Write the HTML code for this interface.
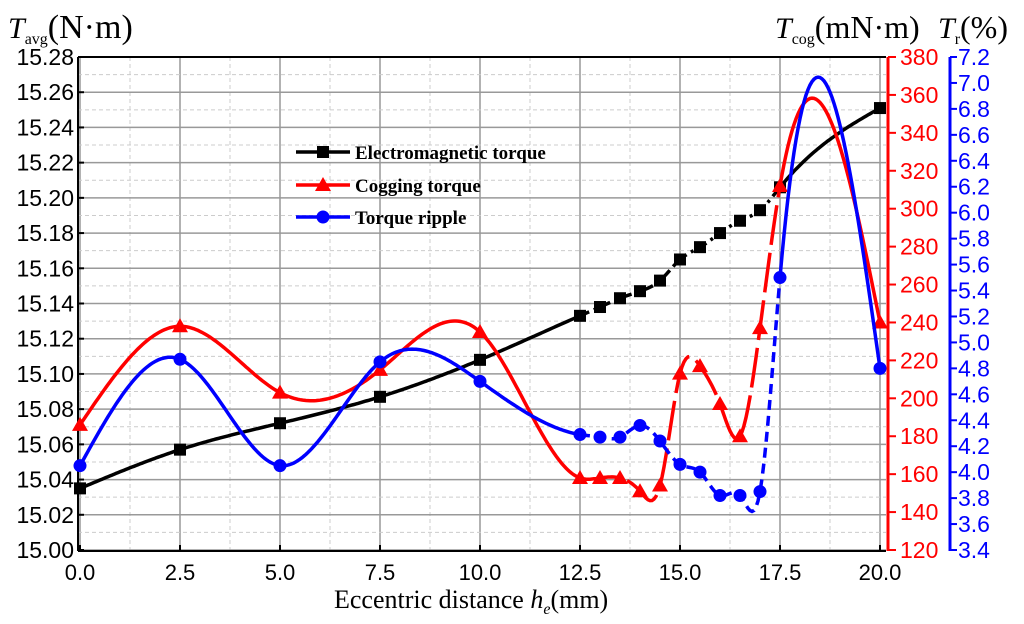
<!DOCTYPE html>
<html><head><meta charset="utf-8"><style>
body{margin:0;background:#fff}
svg{display:block}
text{font-family:"Liberation Sans",sans-serif}
.s{font-family:"Liberation Serif",serif}
</style></head><body>
<svg id="c" width="1024" height="624" xmlns="http://www.w3.org/2000/svg"></svg>
<script>
const xs=[0,2.5,5,7.5,10,12.5,13,13.5,14,14.5,15,15.5,16,16.5,17,17.5,20];
const emTorque=[15.035,15.057,15.072,15.087,15.108,15.133,15.138,15.143,15.147,15.153,15.165,15.172,15.180,15.187,15.193,15.206,15.251];
const cogTorque=[186,238,203,215,235,158,158,158,151,154,213,217,197,180,237,312,240];
const ripple=[4.05,4.87,4.05,4.85,4.70,4.29,4.27,4.27,4.36,4.24,4.06,4.00,3.82,3.82,3.85,5.50,4.80];
const xTicks=[0,2.5,5,7.5,10,12.5,15,17.5,20];
const leftTicks=[15.00,15.02,15.04,15.06,15.08,15.10,15.12,15.14,15.16,15.18,15.20,15.22,15.24,15.26,15.28];
const redTicks=[120,140,160,180,200,220,240,260,280,300,320,340,360,380];
const blueTicks=[3.4,3.6,3.8,4.0,4.2,4.4,4.6,4.8,5.0,5.2,5.4,5.6,5.8,6.0,6.2,6.4,6.6,6.8,7.0,7.2];
const X=v=>80+v*40;
const YL=v=>550-(v-15)/0.28*493;
const YR=v=>550-(v-120)/260*493;
const YB=v=>550-(v-3.4)/3.8*493;
const svg=document.getElementById('c');
const NS='http://www.w3.org/2000/svg';
function mk(t,a,p){const e=document.createElementNS(NS,t);for(const k in a)e.setAttribute(k,a[k]);(p||svg).appendChild(e);return e;}
for(let i=0;i<=16;i++){const x=X(i*1.25);const e=mk('line',{x1:x,x2:x,y1:57,y2:550,stroke:i%2?'#ccc':'#999','stroke-width':i%2?1:1.5,'stroke-dasharray':i%2?'4,3':''});

}
for(let i=0;i<=28;i++){const y=YL(15+i*0.01);const e=mk('line',{x1:78,x2:886,y1:y,y2:y,stroke:i%2?'#ccc':'#999','stroke-width':i%2?1:1.5,'stroke-dasharray':i%2?'4,3':''});

}
mk('line',{x1:78,x2:886,y1:57,y2:57,stroke:'#000','stroke-width':2});
mk('line',{x1:78,x2:886,y1:551,y2:551,stroke:'#000','stroke-width':2});
mk('line',{x1:78,x2:78,y1:57,y2:551,stroke:'#000','stroke-width':2});
mk('line',{x1:888,x2:888,y1:57,y2:551,stroke:'#f00','stroke-width':3});
mk('line',{x1:950,x2:950,y1:57,y2:551,stroke:'#00f','stroke-width':3});
function txt(s,a){const e=mk('text',a);e.textContent=s;return e;}
leftTicks.forEach(v=>{const y=YL(v);mk('line',{x1:78,x2:84,y1:y,y2:y,stroke:'#000','stroke-width':2});
const t=txt(v.toFixed(2),{x:74,y:y+8,'font-size':23,'text-anchor':'end'});

});
xTicks.forEach(v=>{const x=X(v);mk('line',{x1:x,x2:x,y1:545,y2:551,stroke:'#000','stroke-width':2});
const t=txt(v.toFixed(1),{x:x,y:580,'font-size':22,'text-anchor':'middle'});

});
redTicks.forEach(v=>{const y=YR(v);mk('line',{x1:888,x2:896,y1:y,y2:y,stroke:'#f00','stroke-width':2});
const t=txt(v,{x:900,y:y+8,'font-size':23,fill:'#f00'});

});
blueTicks.forEach(v=>{const y=YB(v);mk('line',{x1:950,x2:957,y1:y,y2:y,stroke:'#00f','stroke-width':2});
const t=txt(v.toFixed(1),{x:958,y:y+8,'font-size':23,fill:'#00f'});

});
function spline(xv,yv){const n=xv.length,h=[],a=[],l=[1],mu=[0],z=[0],c=new Array(n).fill(0),b=[],d=[];
for(let i=0;i<n-1;i++)h.push(xv[i+1]-xv[i]);
for(let i=1;i<n-1;i++)a[i]=3/h[i]*(yv[i+1]-yv[i])-3/h[i-1]*(yv[i]-yv[i-1]);
for(let i=1;i<n-1;i++){l[i]=2*(xv[i+1]-xv[i-1])-h[i-1]*mu[i-1];mu[i]=h[i]/l[i];z[i]=(a[i]-h[i-1]*z[i-1])/l[i];}
for(let j=n-2;j>=0;j--){c[j]=(j<n-1?z[j]-mu[j]*c[j+1]:0);b[j]=(yv[j+1]-yv[j])/h[j]-h[j]*(c[j+1]+2*c[j])/3;d[j]=(c[j+1]-c[j])/(3*h[j]);}
return t=>{let i=0;while(i<n-2&&t>xv[i+1])i++;const dx=t-xv[i];return yv[i]+b[i]*dx+c[i]*dx*dx+d[i]*dx*dx*dx;};}
function series(vals,Y,color,name,marker,dash2){
const f=spline(xs,vals);
const seg=(a,b)=>{let p='';for(let t=a;t<=b+0.001;t+=0.05)p+=(p?'L':'M')+X(t).toFixed(1)+','+Y(f(t)).toFixed(1);return p;};
const p1=mk('path',{d:seg(0,12.5),fill:'none',stroke:color,'stroke-width':3.5});


const p2=mk('path',{d:seg(12.5,17.5),fill:'none',stroke:color,'stroke-width':3.5,'stroke-dasharray':dash2});


const p3=mk('path',{d:seg(17.5,20),fill:'none',stroke:color,'stroke-width':3.5});


vals.forEach((v,i)=>{const x=X(xs[i]),y=Y(v);let m;
if(marker==='sq')m=mk('rect',{x:x-6,y:y-6,width:12,height:12,fill:color});
else if(marker==='tri')m=mk('polygon',{points:`${x},${y-8} ${x-8},${y+6} ${x+8},${y+6}`,fill:color});
else m=mk('circle',{cx:x,cy:y,r:6.5,fill:color});

});}
series(emTorque,YL,'#000','electromagnetic-torque','sq','10,5,3,5');
series(cogTorque,YR,'#f00','cogging-torque','tri','40,8');
series(ripple,YB,'#00f','torque-ripple','ci','10,6');
const lg=mk('g',{});
[['Electromagnetic torque','#000','sq',152],['Cogging torque','#f00','tri',185],['Torque ripple','#00f','ci',217]].forEach(([s,c,m,y])=>{
mk('line',{x1:296,x2:350,y1:y,y2:y,stroke:c,'stroke-width':3.5},lg);
if(m==='sq')mk('rect',{x:317,y:y-6,width:12,height:12,fill:c},lg);
else if(m==='tri')mk('polygon',{points:`323,${y-8} 315,${y+6} 331,${y+6}`,fill:c},lg);
else mk('circle',{cx:323,cy:y,r:6.5,fill:c},lg);
const t=txt(s,{x:355,y:y+7,'font-size':19,'font-weight':'bold',class:'s'});lg.appendChild(t);});
</script>
<svg style="position:absolute;left:0;top:0" width="1024" height="624">
<text class="s" x="8" y="38" font-size="30" font-style="italic">T<tspan font-size="16" font-style="normal" dy="6">avg</tspan><tspan font-style="normal" dy="-6" font-size="34">(N·m)</tspan></text>
<text class="s" x="775" y="38" font-size="30" font-style="italic">T<tspan font-size="16" font-style="normal" dy="6">cog</tspan><tspan font-style="normal" dy="-6" font-size="32">(mN·m)</tspan></text>
<text class="s" x="938" y="38" font-size="30" font-style="italic">T<tspan font-size="16" font-style="normal" dy="6">r</tspan><tspan font-style="normal" dy="-6" font-size="32">(%)</tspan></text>
<text class="s" x="334" y="608" font-size="26">Eccentric  distance <tspan font-style="italic">h</tspan><tspan font-style="italic" font-size="16" dy="6">e</tspan><tspan dy="-6">(mm)</tspan></text>
</svg>
</body></html>
